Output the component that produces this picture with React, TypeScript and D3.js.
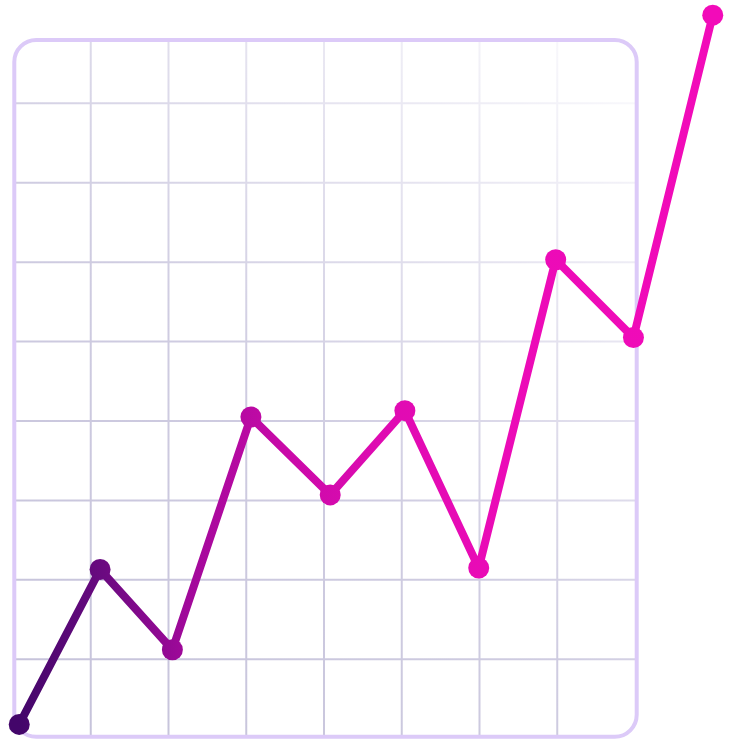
import * as d3 from 'd3';

// Point positions, in grid-cell units
const xPositions = [0.08, 1.12, 2.05, 3.06, 4.08, 5.04, 5.99, 6.98, 7.98, 9.0];
const values = [0.18, 2.13, 1.12, 4.05, 3.07, 4.13, 2.15, 6.03, 5.05, 9.11];

// Grid lines
const xGridTicks = [1, 2, 3, 4, 5, 6, 7];
const yGridTicks = [1, 2, 3, 4, 5, 6, 7, 8];

const WIDTH = 729;
const HEIGHT = 745;

const lineStops = [
  { offset: 0, color: '#43066a' },
  { offset: 0.12, color: '#6a0a80' },
  { offset: 0.24, color: '#a0099a' },
  { offset: 0.38, color: '#c80aa8' },
  { offset: 0.52, color: '#df0bb2' },
  { offset: 0.7, color: '#eb0bb7' },
  { offset: 1, color: '#f20bb9' },
];

const gridStops = [
  { offset: 0, color: '#c5c2da' },
  { offset: 0.45, color: '#cfcce1' },
  { offset: 0.73, color: '#e6e4f0' },
  { offset: 1, color: '#fcfcfe' },
];

export default function App() {
  const x = d3.scaleLinear().domain([0, 8]).range([13, 635]);
  const y = d3.scaleLinear().domain([1, 8]).range([659.3, 103.3]);

  const points = xPositions.map((xp, i) => ({ x: x(xp), y: y(values[i]) }));

  const line = d3
    .line<{ x: number; y: number }>()
    .x((d) => d.x)
    .y((d) => d.y);

  const frameLeft = x(0) + 1.3;
  const frameRight = x(8) + 1.7;
  const frameTop = 40;
  const frameBottom = 736.8;

  return (
    <svg
      width={WIDTH}
      height={HEIGHT}
      style={{ position: 'absolute', left: 0, top: 0 }}
    >
      <defs>
        <linearGradient
          id="lineGrad"
          gradientUnits="userSpaceOnUse"
          x1={points[0].x}
          y1={0}
          x2={points[points.length - 1].x}
          y2={0}
        >
          {lineStops.map((s) => (
            <stop key={s.offset} offset={s.offset} stopColor={s.color} />
          ))}
        </linearGradient>
        <linearGradient
          id="gridGrad"
          gradientUnits="userSpaceOnUse"
          x1={frameLeft}
          y1={frameBottom}
          x2={frameRight}
          y2={frameTop}
        >
          {gridStops.map((s) => (
            <stop key={s.offset} offset={s.offset} stopColor={s.color} />
          ))}
        </linearGradient>
        <clipPath id="frameClip">
          <rect
            x={frameLeft}
            y={frameTop}
            width={frameRight - frameLeft}
            height={frameBottom - frameTop}
            rx={22}
          />
        </clipPath>
      </defs>

      {/* grid */}
      <g clipPath="url(#frameClip)" stroke="url(#gridGrad)" strokeWidth={2}>
        {xGridTicks.map((t) => (
          <line key={'v' + t} x1={x(t)} x2={x(t)} y1={frameTop} y2={frameBottom} />
        ))}
        {yGridTicks.map((t) => (
          <line key={'h' + t} x1={frameLeft} x2={frameRight} y1={y(t)} y2={y(t)} />
        ))}
      </g>

      {/* frame */}
      <rect
        x={frameLeft}
        y={frameTop}
        width={frameRight - frameLeft}
        height={frameBottom - frameTop}
        rx={22}
        fill="none"
        stroke="#dccaf8"
        strokeWidth={4}
      />

      {/* line */}
      <path
        d={line(points) ?? ''}
        fill="none"
        stroke="url(#lineGrad)"
        strokeWidth={8}
        strokeLinejoin="round"
        strokeLinecap="round"
      />
      {points.map((p, i) => (
        <circle key={i} cx={p.x} cy={p.y} r={10.5} fill="url(#lineGrad)" />
      ))}
    </svg>
  );
}
